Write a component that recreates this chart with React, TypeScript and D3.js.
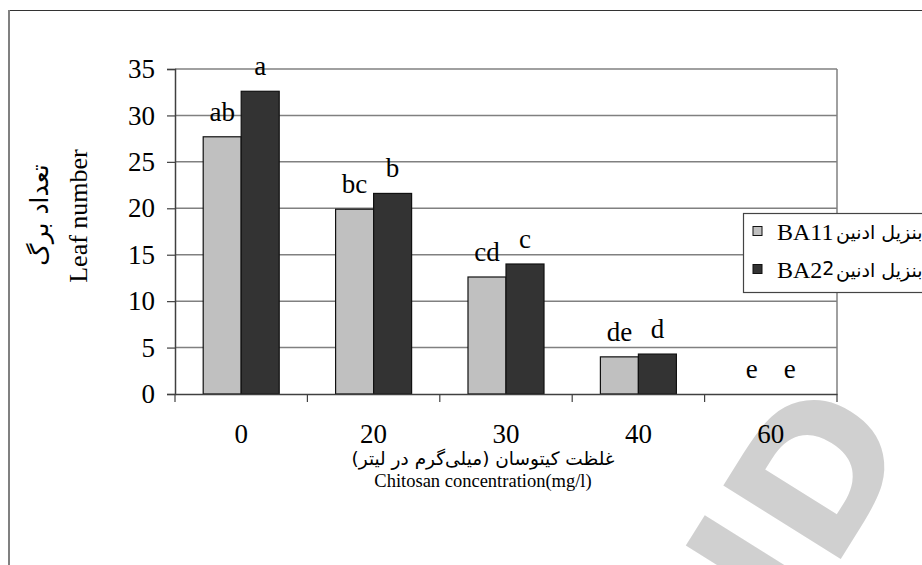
import React, { useRef, useEffect } from "react";
import * as d3 from "d3";

const categories = ["0", "20", "30", "40", "60"];
const seriesNames = ["BA1", "BA2"];
const ba1Values = [27.7, 19.9, 12.6, 4.0, 0];
const ba2Values = [32.6, 21.6, 14.0, 4.3, 0];
const ba1Letters = ["ab", "bc", "cd", "de", "e"];
const ba2Letters = ["a", "b", "c", "d", "e"];
const yTicks = [0, 5, 10, 15, 20, 25, 30, 35];
const colors = ["#c0c0c0", "#333333"];

const serif = "'Liberation Serif', 'Times New Roman', serif";
const arabic = "'DejaVu Sans', sans-serif";

const App: React.FC = () => {
  const svgRef = useRef<SVGSVGElement>(null);

  useEffect(() => {
    if (!svgRef.current) return;
    const svg = d3.select(svgRef.current);
    svg.selectAll("*").remove();

    const W = 922;
    const H = 565;
    const left = 175;
    const right = 837;
    const top = 69;
    const bottom = 394;

    svg.append("rect").attr("width", W).attr("height", H).attr("fill", "#fff");

    // watermark
    svg.append("text")
      .attr("transform", "translate(915,440) rotate(-58)")
      .attr("text-anchor", "end")
      .attr("font-family", arabic)
      .attr("font-weight", "bold")
      .attr("font-size", 190)
      .attr("fill", "#d0d0d0")
      .text("SID");

    // outer frame
    svg.append("line").attr("x1", 8).attr("x2", W).attr("y1", 10.5).attr("y2", 10.5)
      .attr("stroke", "#333").attr("stroke-width", 1);
    svg.append("line").attr("x1", 9).attr("x2", 9).attr("y1", 10).attr("y2", H)
      .attr("stroke", "#808080").attr("stroke-width", 2);

    const x0 = d3.scaleBand<string>().domain(categories).range([left, right]);
    const x1 = d3.scaleBand<string>().domain(seriesNames).range([0, x0.bandwidth()])
      .paddingInner(0).paddingOuter(0.742);
    const y = d3.scaleLinear().domain([0, 35]).range([bottom, top]);

    // gridlines
    svg.append("g")
      .selectAll("line")
      .data(yTicks.filter((t) => t > 0))
      .join("line")
      .attr("x1", left).attr("x2", right)
      .attr("y1", (d) => y(d)).attr("y2", (d) => y(d))
      .attr("stroke", "#808080").attr("stroke-width", 1.5);

    svg.append("line").attr("x1", right).attr("x2", right).attr("y1", top).attr("y2", bottom)
      .attr("stroke", "#808080").attr("stroke-width", 1.5);

    // bars
    const series = [ba1Values, ba2Values];
    const letters = [ba1Letters, ba2Letters];
    series.forEach((vals, si) => {
      const name = seriesNames[si];
      const g = svg.append("g");
      g.selectAll("rect")
        .data(vals)
        .join("rect")
        .attr("x", (_, i) => (x0(categories[i]) as number) + (x1(name) as number))
        .attr("y", (d) => y(d))
        .attr("width", x1.bandwidth())
        .attr("height", (d) => y(0) - y(d))
        .attr("fill", colors[si])
        .attr("stroke", "#111")
        .attr("stroke-width", 1.2);
      g.selectAll("text")
        .data(vals)
        .join("text")
        .attr("x", (_, i) => (x0(categories[i]) as number) + (x1(name) as number) + x1.bandwidth() / 2)
        .attr("y", (d) => y(d) - 16)
        .attr("text-anchor", "middle")
        .attr("font-family", serif)
        .attr("font-size", 27)
        .attr("fill", "#000")
        .text((_, i) => letters[si][i]);
    });

    // y axis
    const yAxis = svg.append("g").attr("transform", `translate(${left},0)`)
      .call(d3.axisLeft(y).tickValues(yTicks).tickSize(8).tickPadding(12));
    yAxis.attr("font-family", serif);
    yAxis.select(".domain").attr("stroke", "#404040").attr("stroke-width", 1.5);
    yAxis.selectAll(".tick line").attr("stroke", "#404040").attr("stroke-width", 1.2);
    yAxis.selectAll(".tick text").attr("font-family", serif).attr("font-size", 27).attr("fill", "#000");

    // x axis: ticks at category boundaries
    const xAxis = svg.append("g").attr("transform", `translate(0,${bottom})`)
      .call(d3.axisBottom(x0).tickSize(0).tickPadding(30));
    xAxis.attr("font-family", serif);
    xAxis.select(".domain").attr("stroke", "#404040").attr("stroke-width", 1.5);
    xAxis.selectAll(".tick text").attr("font-family", serif).attr("font-size", 27).attr("fill", "#000");
    const bounds = categories.map((c) => (x0(c) as number) + x0.step()).concat([left]);
    xAxis.selectAll(".bound")
      .data(bounds)
      .join("line")
      .attr("x1", (d) => d).attr("x2", (d) => d)
      .attr("y1", 0).attr("y2", 8)
      .attr("stroke", "#404040").attr("stroke-width", 1.2);

    // x titles
    svg.append("text").attr("x", 483).attr("y", 465).attr("text-anchor", "middle")
      .attr("font-family", arabic).attr("font-size", 18.5).attr("direction", "rtl")
      .text("غلظت کیتوسان (میلی‌گرم در لیتر)");
    svg.append("text").attr("x", 483).attr("y", 487).attr("text-anchor", "middle")
      .attr("font-family", serif).attr("font-size", 18.5)
      .text("Chitosan concentration(mg/l)");

    // y titles
    svg.append("text").attr("transform", "translate(87,216) rotate(-90)").attr("text-anchor", "middle")
      .attr("font-family", serif).attr("font-size", 26)
      .text("Leaf number");
    svg.append("text").attr("transform", "translate(48,215) rotate(-90)").attr("text-anchor", "middle")
      .attr("font-family", arabic).attr("font-size", 25).attr("direction", "rtl")
      .text("تعداد برگ");

    // legend
    const lg = svg.append("g");
    lg.append("rect").attr("x", 743.5).attr("y", 213.5).attr("width", 200).attr("height", 79)
      .attr("fill", "#fff").attr("stroke", "#444").attr("stroke-width", 1.2);
    seriesNames.forEach((name, i) => {
      const cy = 231 + i * 38;
      lg.append("rect").attr("x", 753).attr("y", cy - 4.5).attr("width", 9).attr("height", 9)
        .attr("fill", colors[i]).attr("stroke", "#111").attr("stroke-width", 1);
      const t = lg.append("text").attr("x", 777).attr("y", cy + 9)
        .attr("font-family", serif).attr("font-size", 24).text(name);
      if (i === 0) {
        t.append("tspan").text("1");
      } else {
        t.append("tspan").attr("font-family", arabic).attr("font-size", 19)
          .attr("dy", -3).text("2");
      }
      lg.append("text").attr("x", 836).attr("y", cy + 8)
        .attr("font-family", arabic).attr("font-size", 19)
        .text("بنزیل ادنین");
    });
  }, []);

  return (
    <svg
      ref={svgRef}
      width={922}
      height={565}
      style={{ position: "absolute", left: 0, top: 0 }}
    />
  );
};

export default App;
